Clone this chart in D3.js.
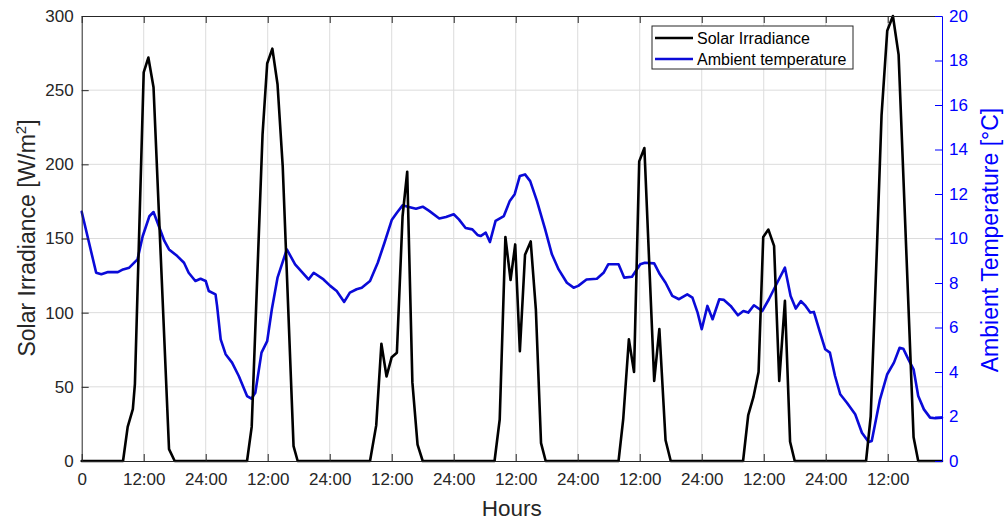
<!DOCTYPE html>
<html>
<head>
<meta charset="utf-8">
<script src="https://cdnjs.cloudflare.com/ajax/libs/d3/7.8.5/d3.min.js"></script>
<style>
  html, body { margin: 0; padding: 0; background: #ffffff; }
  svg { display: block; font-family: "Liberation Sans", Arial, Helvetica, sans-serif; }
</style>
</head>
<body>
<svg id="chart" width="1007" height="524"></svg>
<script>
// ---- DATA ----
const hourTicks = [0, 12, 24, 36, 48, 60, 72, 84, 96, 108, 120, 132, 144, 156];
const hourTickLabels = ["0", "12:00", "24:00", "12:00", "24:00", "12:00", "24:00",
                        "12:00", "24:00", "12:00", "24:00", "12:00", "24:00", "12:00"];
const irradianceTicks = [0, 50, 100, 150, 200, 250, 300];
const temperatureTicks = [0, 2, 4, 6, 8, 10, 12, 14, 16, 18, 20];

const solarHours = [
  0, 8.0, 8.9, 9.9, 10.3, 12.0, 12.9, 13.9, 16.9, 18.0,
  32.0, 32.9, 35.0, 35.9, 36.9, 37.9, 38.9, 41.0, 41.8,
  55.8, 57.0, 58.0, 59.0, 60.0, 61.0, 62.1, 63.0, 64.0, 65.0, 66.0,
  79.9, 80.9, 82.0, 83.0, 83.9, 84.8, 85.8, 86.9, 87.9, 88.9, 89.8,
  103.9, 104.8, 105.9, 106.9, 107.9, 108.9, 110.8, 111.8, 113.0, 114.0,
  128.0, 129.0, 130.0, 131.0, 131.9, 132.9, 134.0, 135.0, 136.1, 137.1, 138.0,
  151.8, 152.7, 153.9, 154.8, 155.9, 157.0, 158.1, 161.0, 161.9, 166.5
];
const solarValues = [
  0, 0, 23, 35, 52, 262, 272, 252, 8, 0,
  0, 23, 220, 268, 278, 254, 199, 10, 0,
  0, 24, 79, 57, 70, 73, 165, 195, 53, 11, 0,
  0, 28, 151, 122, 146, 74, 139, 148, 102, 12, 0,
  0, 28, 82, 60, 202, 211, 54, 89, 14, 0,
  0, 31, 43, 60, 151, 156, 145, 54, 108, 13, 0,
  0, 30, 143, 233, 290, 300, 274, 16, 0, 0
];

const tempHours = [
  0.0, 2.8, 3.8, 5.1, 7.0, 8.0, 9.2, 10.8, 11.8, 13.1, 13.9, 14.7, 16.0, 16.9, 18.5,
  19.8, 20.7, 22.0, 23.0, 24.0, 24.6, 25.9, 26.2, 26.9, 27.85, 29.1, 30.4, 32.0, 32.85,
  33.6, 34.8, 35.9, 36.8, 37.9, 39.7, 41.3, 43.9, 44.9, 46.8, 48.1, 49.35, 50.8, 51.9,
  53.2, 54.2, 55.8, 57.3, 58.6, 60.0, 61.0, 62.1, 63.1, 64.7, 66.0, 67.25, 69.2, 70.5,
  72.0, 73.0, 74.3, 75.6, 76.6, 77.2, 78.2, 79.0, 80.1, 81.7, 82.85, 83.8, 84.8, 85.8,
  86.8, 88.1, 89.7, 91.0, 92.3, 93.9, 95.2, 96.1, 97.7, 99.7, 101.0, 101.9, 103.9, 105.0,
  106.5, 108.1, 109.0, 110.8, 111.9, 113.0, 114.3, 115.6, 117.2, 118.2, 119.2, 120.0,
  121.1, 122.1, 123.4, 124.3, 125.6, 127.0, 128.06, 129.0, 130.1, 131.7, 133.0, 134.6,
  136.1, 137.2, 138.2, 139.2, 140.1, 141.0, 141.7, 142.9, 143.9, 144.8, 145.8, 146.8,
  148.1, 149.7, 151.0, 152.3, 152.9, 154.5, 155.9, 157.2, 158.3, 159.0, 160.0, 161.0,
  161.9, 163.0, 164.2, 165.2, 166.5
];
const tempValues = [
  11.2, 8.46, 8.39, 8.49, 8.49, 8.61, 8.69, 9.06, 10.1, 11.0, 11.19, 10.7, 9.89, 9.51, 9.21,
  8.91, 8.46, 8.09, 8.19, 8.09, 7.64, 7.49, 6.97, 5.47, 4.8, 4.42, 3.82, 2.92, 2.80,
  3.07, 4.87, 5.39, 6.82, 8.24, 9.51, 8.84, 8.16, 8.46, 8.16, 7.87, 7.64, 7.15, 7.57,
  7.72, 7.79, 8.09, 8.91, 9.81, 10.83, 11.16, 11.49, 11.43, 11.34, 11.43, 11.24, 10.9, 10.97,
  11.09, 10.86, 10.47, 10.41, 10.16, 10.11, 10.26, 9.84, 10.79, 11.01, 11.69, 11.99, 12.81, 12.88,
  12.58, 11.69, 10.41, 9.29, 8.61, 8.01, 7.79, 7.87, 8.16, 8.19, 8.46, 8.84, 8.84, 8.24,
  8.28, 8.84, 8.91, 8.88, 8.39, 8.01, 7.42, 7.27, 7.49, 7.34, 6.67, 5.92,
  6.97, 6.37, 7.27, 7.24, 6.97, 6.55, 6.74, 6.67, 7.0, 6.74, 7.27, 8.01,
  8.69, 7.42, 6.85, 7.19, 6.97, 6.67, 6.70, 5.77, 5.02, 4.87, 3.82, 3.0,
  2.62, 2.10, 1.27, 0.85, 0.90, 2.77, 3.90, 4.42, 5.09, 5.05, 4.57, 4.12,
  2.92, 2.32, 1.95, 1.92, 1.95
];

const seriesNames = ["Solar Irradiance", "Ambient temperature"];

// ---- LAYOUT ----
const plotLeft = 81.7, plotRight = 942, plotTop = 16, plotBottom = 461;
const axisColor = "#262626";
const blue = "#0000ff";
const lineBlue = "#0a0ad8";

const svg = d3.select("#chart");

const x = d3.scaleLinear().domain([0, 166.5]).range([plotLeft, plotRight]);
const yL = d3.scaleLinear().domain([0, 300]).range([plotBottom, plotTop]);
const yR = d3.scaleLinear().domain([0, 20]).range([plotBottom, plotTop]);

// grid
const grid = svg.append("g").attr("stroke", "#dcdcdc").attr("stroke-width", 1);
grid.selectAll("line.vx").data(hourTicks.filter(d => d > 0)).join("line")
  .attr("class", "vx")
  .attr("x1", d => x(d)).attr("x2", d => x(d)).attr("y1", plotTop).attr("y2", plotBottom);
grid.selectAll("line.hy").data(irradianceTicks.filter(d => d > 0 && d < 300)).join("line")
  .attr("class", "hy")
  .attr("x1", plotLeft).attr("x2", plotRight).attr("y1", d => yL(d)).attr("y2", d => yL(d));

// lines
const solarData = solarHours.map((h, i) => [h, solarValues[i]]);
const tempData = tempHours.map((h, i) => [h, tempValues[i]]);

svg.append("path").datum(tempData)
  .attr("fill", "none").attr("stroke", lineBlue).attr("stroke-width", 2.6)
  .attr("stroke-linejoin", "round").attr("stroke-linecap", "round")
  .attr("d", d3.line().x(d => x(d[0])).y(d => yR(d[1])));

svg.append("path").datum(solarData)
  .attr("fill", "none").attr("stroke", "#000000").attr("stroke-width", 2.6)
  .attr("stroke-linejoin", "round").attr("stroke-linecap", "round")
  .attr("d", d3.line().x(d => x(d[0])).y(d => yL(d[1])));

// axes
function styleAxis(g, color) {
  g.select(".domain").attr("stroke", color).attr("stroke-width", 1);
  g.selectAll(".tick line").attr("stroke", color).attr("stroke-width", 1);
  g.selectAll(".tick text").attr("fill", color)
    .style("font-family", "'Liberation Sans', Arial, Helvetica, sans-serif")
    .style("font-size", "17px");
}

const gx = svg.append("g").attr("transform", `translate(0,${plotBottom})`)
  .call(d3.axisBottom(x).tickValues(hourTicks)
    .tickFormat((d, i) => hourTickLabels[i]).tickSizeInner(-7).tickSizeOuter(0).tickPadding(12));
styleAxis(gx, axisColor);

const gxTop = svg.append("g").attr("transform", `translate(0,${plotTop})`)
  .call(d3.axisTop(x).tickValues(hourTicks).tickFormat("").tickSizeInner(-7).tickSizeOuter(0));
styleAxis(gxTop, axisColor);

const gyL = svg.append("g").attr("transform", `translate(${plotLeft},0)`)
  .call(d3.axisLeft(yL).tickValues(irradianceTicks).tickSizeInner(-7).tickSizeOuter(0).tickPadding(8));
styleAxis(gyL, axisColor);

const gyR = svg.append("g").attr("transform", `translate(${plotRight},0)`)
  .call(d3.axisRight(yR).tickValues(temperatureTicks).tickSizeInner(-7).tickSizeOuter(0).tickPadding(7));
styleAxis(gyR, blue);

// axis titles
svg.append("text")
  .attr("x", (plotLeft + plotRight) / 2).attr("y", 516)
  .attr("text-anchor", "middle").attr("fill", axisColor)
  .style("font-size", "22.5px").text("Hours");

const tL = svg.append("text")
  .attr("transform", `translate(35,238) rotate(-90)`)
  .attr("text-anchor", "middle").attr("fill", axisColor)
  .style("font-size", "23px");
tL.append("tspan").text("Solar Irradiance [W/m");
tL.append("tspan").attr("dy", -9).style("font-size", "15px").text("2");
tL.append("tspan").attr("dy", 9).text("]");

svg.append("text")
  .attr("transform", `translate(998,240) rotate(-90)`)
  .attr("text-anchor", "middle").attr("fill", blue)
  .style("font-size", "23px").text("Ambient Temperature [°C]");

// legend
const lg = svg.append("g");
lg.append("rect").attr("x", 652).attr("y", 26).attr("width", 201).attr("height", 43)
  .attr("fill", "#ffffff").attr("stroke", axisColor).attr("stroke-width", 1);
const legendColors = ["#000000", lineBlue];
const legendY = [38, 59];
seriesNames.forEach((name, i) => {
  lg.append("line").attr("x1", 655).attr("x2", 693).attr("y1", legendY[i]).attr("y2", legendY[i])
    .attr("stroke", legendColors[i]).attr("stroke-width", 2.6);
  lg.append("text").attr("x", 697).attr("y", legendY[i] + 6)
    .attr("fill", "#000000").style("font-size", "16px").text(name);
});
</script>
</body>
</html>
